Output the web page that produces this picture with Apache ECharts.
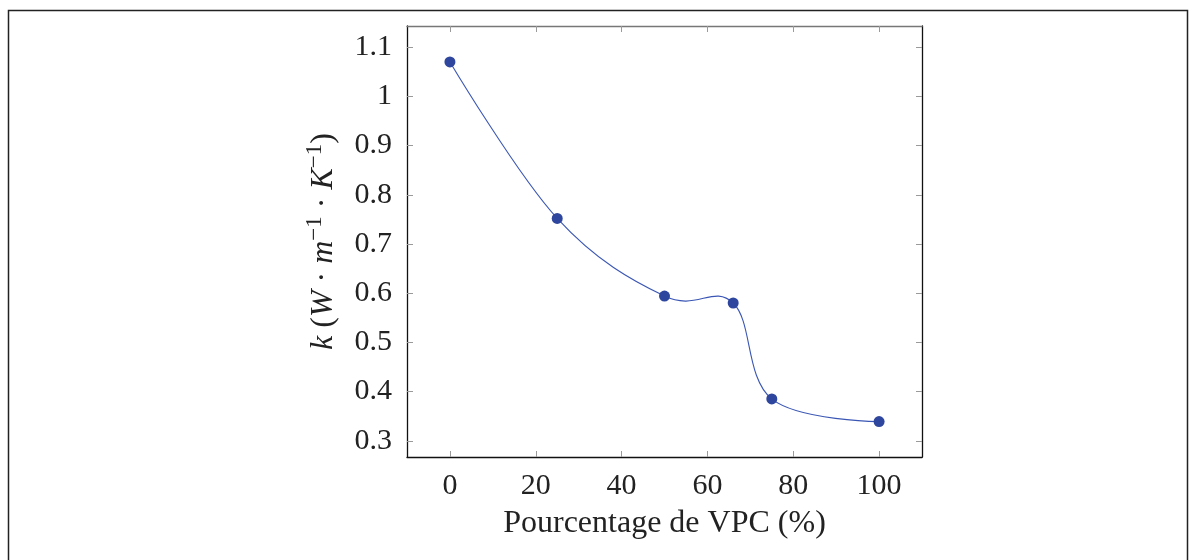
<!DOCTYPE html>
<html>
<head>
<meta charset="utf-8">
<script src="https://cdn.jsdelivr.net/npm/echarts@6/dist/echarts.min.js"></script>
<style>html,body{margin:0;padding:0;background:#fff}#c{width:1196px;height:560px}</style>
</head>
<body>
<div id="c"></div>
<script>
const vpcPercent = [0, 25, 50, 66, 75, 100];
const conductivity = [1.07, 0.752, 0.594, 0.58, 0.385, 0.339];
const xTicks = [0, 20, 40, 60, 80, 100];
const yTicks = [0.3, 0.4, 0.5, 0.6, 0.7, 0.8, 0.9, 1, 1.1];
const xTitle = 'Pourcentage de VPC (%)';

const chart = echarts.init(document.getElementById('c'), null, {renderer: 'canvas'});
const FONT = '"Liberation Serif", "Times New Roman", serif';
const tickGray = '#9a9a9a';
const pts = vpcPercent.map((x, i) => [x, conductivity[i]]);
const TENSION = 0.55 / 3; // TikZ "smooth" curve (tension 0.55)

const fmtY = v => {
  const r = Math.round(v * 10) / 10;
  return r === 1 ? '1' : String(r);
};

// smooth curve segment from point i to i+1, TikZ-style, computed in pixel space via the axes
function renderSegment(params, api) {
  const i = params.dataIndex;
  const n = pts.length;
  if (i >= n - 1) return null;
  const P = k => api.coord(pts[k]);
  const p0 = P(i), p1 = P(i + 1);
  let c1, c2;
  if (i > 0) {
    const pm = P(i - 1);
    c1 = [p0[0] + TENSION * (p1[0] - pm[0]), p0[1] + TENSION * (p1[1] - pm[1])];
  } else {
    c1 = p0.slice();
  }
  if (i + 2 < n) {
    const pn = P(i + 2);
    c2 = [p1[0] - TENSION * (pn[0] - p0[0]), p1[1] - TENSION * (pn[1] - p0[1])];
  } else {
    c2 = p1.slice();
  }
  return {
    type: 'bezierCurve',
    shape: {x1: p0[0], y1: p0[1], x2: p1[0], y2: p1[1],
            cpx1: c1[0], cpy1: c1[1], cpx2: c2[0], cpy2: c2[1]},
    style: {stroke: '#3a56b4', lineWidth: 1.1, fill: 'none'},
    silent: true
  };
}

chart.setOption({
  animation: false,
  backgroundColor: '#fff',
  graphic: [{
    type: 'rect',
    shape: {x: 8.5, y: 10.5, width: 1179, height: 600},
    style: {fill: 'none', stroke: '#222', lineWidth: 1.5},
    silent: true
  }],
  grid: {left: 407, right: 274, top: 26, bottom: 103},
  xAxis: [{
    type: 'value', min: -10, max: 110,
    axisLine: {show: true, onZero: false, lineStyle: {color: '#111', width: 1.3}},
    axisTick: {show: true, inside: true, length: 6, customValues: xTicks, lineStyle: {color: tickGray, width: 1}},
    axisLabel: {customValues: xTicks, margin: 14, fontFamily: FONT, fontSize: 30, color: '#222'},
    splitLine: {show: false},
    name: xTitle, nameLocation: 'middle', nameGap: 51,
    nameTextStyle: {fontFamily: FONT, fontSize: 32, color: '#222', verticalAlign: 'top'}
  }, {
    type: 'value', min: -10, max: 110, position: 'top',
    axisLine: {show: true, onZero: false, lineStyle: {color: '#777', width: 1.3}},
    axisTick: {show: true, inside: true, length: 6, customValues: xTicks, lineStyle: {color: tickGray, width: 1}},
    axisLabel: {show: false},
    splitLine: {show: false}
  }],
  yAxis: [{
    type: 'value', min: 0.267, max: 1.143,
    axisLine: {show: true, onZero: false, lineStyle: {color: '#111', width: 1.3}},
    axisTick: {show: true, inside: true, length: 6, customValues: yTicks, lineStyle: {color: tickGray, width: 1}},
    axisLabel: {customValues: yTicks, margin: 15, fontFamily: FONT, fontSize: 30, color: '#222', formatter: fmtY},
    splitLine: {show: false},
    name: '{i|k} {n|(}{i|W} {n|·} {i|m}{sup|−1} {n|·} {i|K}{sup|−1}{n|)}',
    nameLocation: 'middle', nameGap: 62, nameRotate: 90,
    nameTextStyle: {
      fontFamily: FONT, fontSize: 32, color: '#222',
      rich: {
        i: {fontFamily: FONT, fontSize: 32, fontStyle: 'italic', color: '#222', lineHeight: 42},
        n: {fontFamily: FONT, fontSize: 32, color: '#222', lineHeight: 42},
        sup: {fontFamily: FONT, fontSize: 23, fontStyle: 'normal', color: '#222', verticalAlign: 'top', lineHeight: 22}
      }
    }
  }, {
    type: 'value', min: 0.267, max: 1.143, position: 'right',
    axisLine: {show: true, onZero: false, lineStyle: {color: '#111', width: 1.3}},
    axisTick: {show: true, inside: true, length: 6, customValues: yTicks, lineStyle: {color: tickGray, width: 1}},
    axisLabel: {show: false},
    splitLine: {show: false}
  }],
  series: [{
    type: 'custom',
    data: pts,
    renderItem: renderSegment,
    clip: false,
    z: 2
  }, {
    type: 'scatter',
    data: pts,
    symbol: 'circle',
    symbolSize: 11,
    itemStyle: {color: '#2f469e', opacity: 1},
    z: 3
  }]
});
</script>
</body>
</html>
